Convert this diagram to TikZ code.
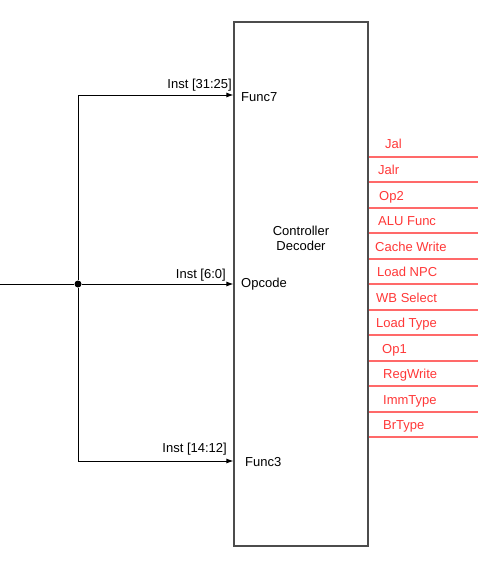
\documentclass[tikz,border=0pt]{standalone}
\usepackage{fontspec}
\setmainfont{Liberation Sans}
\usetikzlibrary{arrows.meta}
\definecolor{sigred}{RGB}{255,55,55}
\definecolor{sigline}{RGB}{255,105,105}
\tikzset{bus/.style={-{Latex[length=7pt, width=5pt]}, line width=0.9pt}}
\tikzset{lbl/.style={inner sep=0}}
\tikzset{sig/.style={lbl, text=sigred, anchor=base west}}

\begin{document}
\begin{tikzpicture}[x=1pt, y=-1pt, font=\fontsize{13}{15}\selectfont]
    \useasboundingbox (0,0) rectangle (478,580);
    \node[draw=black!70, line width=1.2pt, minimum width=134pt, minimum height=524pt, inner sep=0] (dec) at (301, 284) {};
    \node[align=center] (name) at (301, 238) {Controller\\Decoder};
    % instruction fields
    \coordinate (in) at (0, 284);
    \coordinate (f7) at (78, 95);
    \coordinate (f3) at (78, 461);
    \node[circle, fill, inner sep=0, minimum size=7pt] (j) at (78, 284) {};
    \draw[line width=0.9pt] (in) -- (j);
    \draw[bus] (j) -- (dec.west |- j);
    \draw[bus] (j) -- (f7) -- (dec.west |- f7);
    \draw[bus] (j) -- (f3) -- (dec.west |- f3);
    \node[lbl, anchor=base east] (i7) at (232, 89) {Inst [31:25]};
    \node[lbl, anchor=base east] (i0) at (226, 278) {Inst [6:0]};
    \node[lbl, anchor=base east] (i3) at (227, 452) {Inst [14:12]};
    \node[lbl, anchor=base west] (p7) at (241, 102) {Func7};
    \node[lbl, anchor=base west] (p0) at (241, 287) {Opcode};
    \node[lbl, anchor=base west] (p3) at (245, 466) {Func3};
    % control outputs
    \foreach \y/\x/\t [count=\i] in {157/385/Jal, 182/378/Jalr, 208/379/Op2, 233/378/ALU Func,
        259/375/Cache Write, 284/377/Load NPC, 310/376/WB Select, 335/376/Load Type,
        361/382/Op1, 386/383/RegWrite, 412/383/ImmType, 437/383/BrType} {
      \coordinate (o\i) at (478, \y);
      \draw[sigline, line width=1.1pt] (dec.east |- o\i) -- (o\i);
      \node[sig] (s\i) at (\x, \y-8) {\t};
    }
\end{tikzpicture}
\end{document}
